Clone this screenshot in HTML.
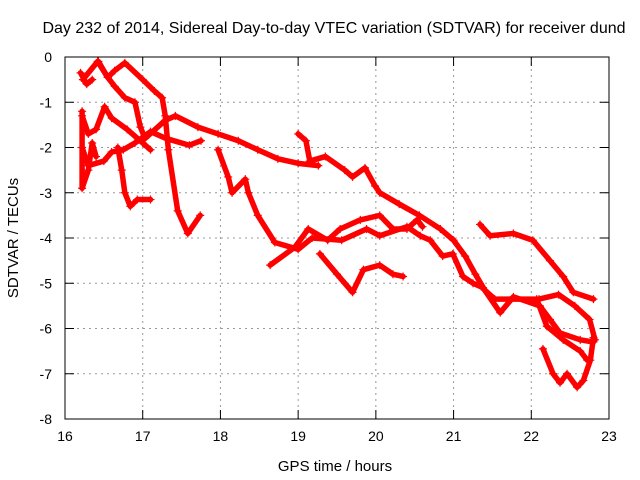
<!DOCTYPE html>
<html><head><meta charset="utf-8"><style>
body{margin:0;background:#fff;}
svg{display:block;font-family:"Liberation Sans",sans-serif;}
</style></head><body>
<svg id="chart" width="640" height="480" viewBox="0 0 640 480">
<rect width="640" height="480" fill="#fff"/>
<text x="334" y="33" font-size="16" text-anchor="middle">Day 232 of 2014, Sidereal Day-to-day VTEC variation (SDTVAR) for receiver dund</text>
<g id="grid"></g>
<g id="axes"></g>
<g id="series"></g>
<rect x="65" y="57" width="544" height="362" fill="none" stroke="#000" stroke-width="1"/>
<text x="335" y="471" font-size="15" text-anchor="middle">GPS time / hours</text>
<text transform="translate(18,238) rotate(-90)" font-size="15" text-anchor="middle">SDTVAR / TECUs</text>
</svg>
<script>
const xTicks=[16,17,18,19,20,21,22,23];
const yTicks=[0,-1,-2,-3,-4,-5,-6,-7,-8];
const track1=[[16.43,-0.1],[16.55,-0.45],[16.64,-0.3],[16.77,-0.13],[17.0,-0.5],[17.15,-0.75],[17.25,-0.9],[17.29,-1.3],[17.33,-2.05],[17.45,-3.4],[17.58,-3.9],[17.74,-3.5]];
const track2=[[16.23,-0.5],[16.42,-0.1],[16.55,-0.45],[16.64,-0.65],[16.77,-0.9],[16.9,-1.0],[16.97,-1.55],[17.03,-1.8],[17.29,-1.4],[17.42,-1.3],[17.71,-1.55],[17.97,-1.7],[18.23,-1.85],[18.48,-2.05],[18.74,-2.25],[19.0,-2.35],[19.26,-2.4]];
const track3=[[19.0,-1.7],[19.1,-1.85],[19.15,-2.3],[19.35,-2.2],[19.6,-2.5],[19.7,-2.65],[19.86,-2.45],[19.99,-2.85],[20.05,-3.0],[20.3,-3.25],[20.56,-3.5],[20.83,-3.8],[21.0,-4.05],[21.15,-4.4],[21.28,-4.8],[21.4,-5.15],[21.53,-5.35],[22.1,-5.35],[22.35,-5.25],[22.56,-5.5],[22.75,-5.8],[22.82,-6.25]];
const track4=[[21.34,-3.7],[21.47,-3.95],[21.77,-3.9],[22.02,-4.05],[22.24,-4.5],[22.41,-4.85],[22.54,-5.2],[22.8,-5.35]];
const track5=[[18.64,-4.6],[18.96,-4.2],[19.13,-3.8],[19.38,-4.05],[19.54,-3.8],[19.8,-3.6],[20.05,-3.5],[20.22,-3.8],[20.4,-3.8],[20.53,-3.6],[20.6,-3.75]];
const track6=[[17.97,-2.05],[18.1,-2.65],[18.15,-3.0],[18.32,-2.7],[18.36,-3.0],[18.48,-3.5],[18.7,-4.1],[19.0,-4.25],[19.18,-4.0],[19.56,-4.05],[19.88,-3.8],[20.05,-3.95],[20.4,-3.75],[20.57,-3.95],[20.7,-4.05],[20.86,-4.4],[20.99,-4.35],[21.12,-4.85],[21.25,-5.0],[21.38,-5.1],[21.6,-5.65],[21.77,-5.3],[22.11,-5.5],[22.24,-5.8],[22.37,-6.1],[22.63,-6.25],[22.8,-6.3]];
const track7=[[19.28,-4.35],[19.5,-4.8],[19.7,-5.2],[19.84,-4.7],[20.05,-4.6],[20.22,-4.8],[20.35,-4.85]];
const track8=[[22.15,-6.45],[22.28,-7.0],[22.37,-7.2],[22.46,-7.0],[22.59,-7.3],[22.67,-7.15],[22.76,-6.7],[22.8,-6.2]];
const track9=[[22.07,-5.35],[22.2,-5.95],[22.41,-6.25],[22.63,-6.5],[22.72,-6.7]];
const track10=[[16.22,-1.3],[16.3,-1.7],[16.4,-1.6],[16.51,-1.1],[16.6,-1.35],[16.8,-1.6],[17.0,-1.9],[17.1,-2.05]];
const track11=[[16.22,-2.0],[16.3,-2.4],[16.5,-2.3],[16.6,-2.1],[16.75,-2.05],[16.9,-1.9],[17.1,-1.65],[17.3,-1.8],[17.6,-1.95],[17.75,-1.85]];
const track12=[[16.68,-2.0],[16.73,-2.5],[16.77,-3.0],[16.84,-3.3],[16.93,-3.15],[17.1,-3.15]];
const track13=[[16.2,-0.35],[16.28,-0.6],[16.35,-0.5]];
const track14=[[16.22,-1.2],[16.22,-2.9],[16.3,-2.5],[16.35,-1.9],[16.4,-2.2]];
const allTracks=[track1,track2,track3,track4,track5,track6,track7,track8,track9,track10,track11,track12,track13,track14];
const NS="http://www.w3.org/2000/svg";
function xs(t){return 65+(t-16)/7*544;}
function ys(v){return 57+(-v)/8*362;}
function mk(tag,attrs,parent){const e=document.createElementNS(NS,tag);for(const k in attrs)e.setAttribute(k,attrs[k]);parent.appendChild(e);return e;}
const grid=document.getElementById('grid'),axes=document.getElementById('axes'),series=document.getElementById('series');
xTicks.forEach(t=>{const x=xs(t);
 if(t>16&&t<23){const g=mk('line',{x1:x,x2:x,y1:57,y2:419,stroke:'#999','stroke-dasharray':'2,4'},grid);}
 mk('line',{x1:x,x2:x,y1:419,y2:410,stroke:'#000'},axes);mk('line',{x1:x,x2:x,y1:57,y2:66,stroke:'#000'},axes);
 const l=mk('text',{x:x,y:441,'font-size':14,'text-anchor':'middle'},axes);l.textContent=t;
 
 });
yTicks.forEach(v=>{const y=ys(v);
 if(v<0&&v>-8){const g=mk('line',{x1:65,x2:609,y1:y,y2:y,stroke:'#999','stroke-dasharray':'2,4'},grid);}
 mk('line',{x1:65,x2:74,y1:y,y2:y,stroke:'#000'},axes);mk('line',{x1:600,x2:609,y1:y,y2:y,stroke:'#000'},axes);
 const l=mk('text',{x:52,y:y+5,'font-size':14,'text-anchor':'end'},axes);l.textContent=v;
 
 });
allTracks.forEach((tr,i)=>{
 const g=mk('g',{},series);
 
 
 mk('polyline',{points:tr.map(p=>xs(p[0])+','+ys(p[1])).join(' '),fill:'none',stroke:'#f00','stroke-width':5.5,'stroke-linejoin':'round','stroke-linecap':'round'},g);
 tr.forEach(p=>{const x=xs(p[0]),y=ys(p[1]);
  mk('path',{d:`M${x-4},${y}H${x+4}M${x},${y-4}V${y+4}`,stroke:'#f00','stroke-width':1.2},g);});
});
</script>
</body></html>
